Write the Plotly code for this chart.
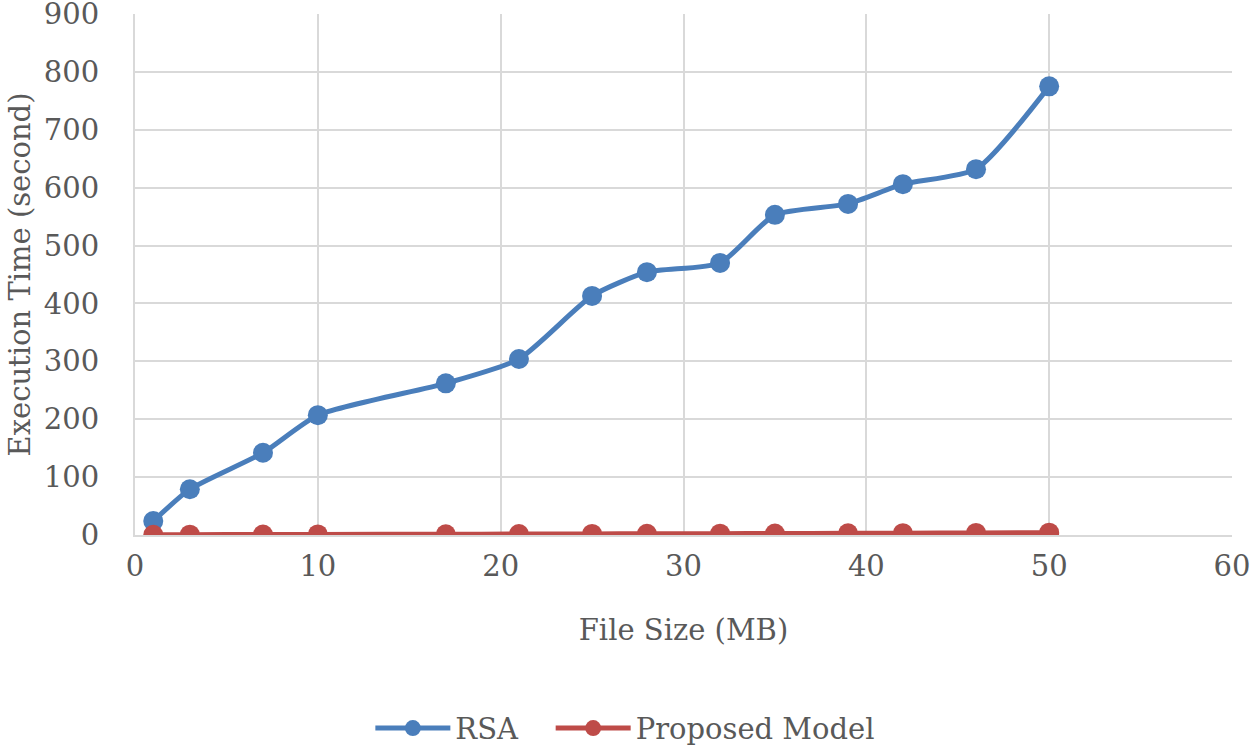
import plotly.graph_objects as go

file_size = [1, 3, 7, 10, 17, 21, 25, 28, 32, 35, 39, 42, 46, 50]
rsa = [24, 79, 142, 207, 262, 304, 413, 454, 470, 553, 572, 606, 632, 775]
proposed = [0.5, 0.6, 0.8, 1.0, 1.3, 1.6, 1.9, 2.1, 2.3, 2.6, 2.9, 3.2, 3.6, 4.0]

x_ticks = [0, 10, 20, 30, 40, 50, 60]
y_ticks = [0, 100, 200, 300, 400, 500, 600, 700, 800, 900]

BLUE = "#4A7EBB"
RED = "#BE4B48"
FONT = "DejaVu Serif"

fig = go.Figure()
fig.add_trace(go.Scatter(
    x=file_size, y=rsa, name="RSA\u00a0\u00a0\u00a0", mode="lines+markers",
    line=dict(color=BLUE, width=5, shape="spline", smoothing=0.6),
    marker=dict(color=BLUE, size=20),
))
fig.add_trace(go.Scatter(
    x=file_size, y=proposed, name="Proposed Model", mode="lines+markers",
    line=dict(color=RED, width=5, shape="spline", smoothing=0.6),
    marker=dict(color=RED, size=20),
))

fig.update_layout(
    width=1256, height=750,
    margin=dict(l=135, r=24, t=14, b=215),
    paper_bgcolor="white", plot_bgcolor="white",
    font=dict(family=FONT, size=29, color="#595959"),
    showlegend=True,
    legend=dict(orientation="h", x=0.447, xanchor="center",
                yref="container", y=0.029, yanchor="middle",
                font=dict(size=29, color="#595959"), itemwidth=75),
)
fig.update_xaxes(
    range=[0, 60], tickvals=x_ticks, showgrid=True, gridcolor="#D9D9D9", gridwidth=2,
    showline=True, linecolor="#D9D9D9", linewidth=2, zeroline=False, automargin=False,
    title=dict(text="File Size (MB)", standoff=38, font=dict(size=29)),
    ticklabelstandoff=4, ticklabeloverflow="allow",
)
fig.update_yaxes(
    range=[0, 900], tickvals=y_ticks, showgrid=True, gridcolor="#D9D9D9", gridwidth=2,
    showline=True, linecolor="#D9D9D9", linewidth=2, zeroline=False, automargin=False,
    title=dict(text="Execution Time (second)", standoff=5, font=dict(size=29)),
    ticklabelstandoff=28, ticklabeloverflow="allow",
)

fig.write_html("out.html", config={"displayModeBar": False},
               post_script="document.body.style.margin='0';")
